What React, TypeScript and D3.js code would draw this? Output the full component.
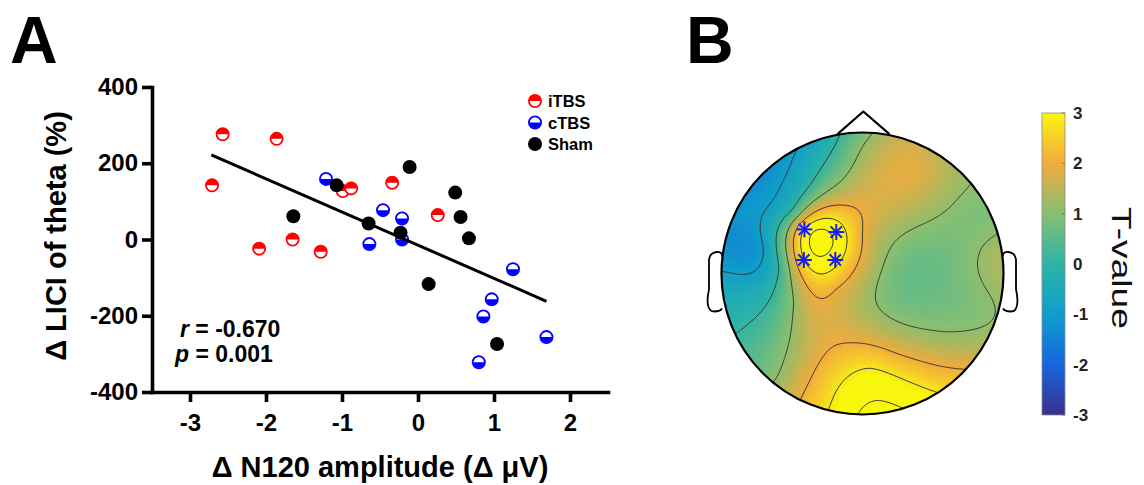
import React, { useEffect, useRef } from "react";
import * as d3 from "d3";

// ---------- panel A data ----------
const xTicks = [-3, -2, -1, 0, 1, 2];
const yTicks = [-400, -200, 0, 200, 400];
const groups = ["iTBS", "cTBS", "Sham"];
const groupColors = ["#ff0000", "#0000ff", "#000000"];

const itbsX = [-2.71, -2.57, -1.86, -2.09, -1.65, -1.28, -0.99, -0.88, -0.34, 0.26];
const itbsY = [142, 276, 264, -24, 0, -32, 127, 134, 149, 64];
const ctbsX = [-1.21, -0.46, -0.64, -0.21, -0.21, 1.25, 0.97, 0.86, 1.69, 0.8];
const ctbsY = [159, 77, -12, 55, 0, -78, -157, -202, -256, -322];
const shamX = [-1.07, -1.64, -0.65, -0.23, -0.11, 0.49, 0.56, 0.67, 0.14, 1.04];
const shamY = [142, 61, 42, 18, 190, 123, 59, 3, -117, -274];

const fitX = [-2.72, 1.69];
const fitY = [222, -162];

// ---------- panel B data ----------
// sample points in head coords (x to the right, y toward the nose), T values
const sensX = [-0.72, -0.86, -0.62, -0.42, -0.22, -0.97, -0.85, -0.62, -0.58, -0.5, -0.4, -0.48, -0.55,
  -0.31, -0.41, -0.19, -0.41, -0.19, -0.3,
  -0.05, 0.05, 0.26, 0.38, 0.1, 0.03, -0.12,
  0.62, 0.72, 0.93, 0.95, 0.9, 0.6, 0.3, 0.27, 0.5, 0.15,
  -0.18, -0.37, -0.1, 0.27, 0.6, 0.12, -0.1, 0.4, 0.72, -0.38, 0.05, -0.2];
const sensY = [0.17, 0.42, 0.62, 0.82, 0.95, -0.1, -0.45, -0.72, 0.05, 0.45, 0.62, -0.2, -0.4,
  0.27, 0.31, 0.29, 0.1, 0.1, -0.08,
  0.92, 0.72, 0.9, 0.69, 0.48, 0.28, 0.55,
  0.8, 0.5, 0.35, 0.08, -0.3, 0.2, 0.1, -0.08, -0.19, -0.2,
  -0.12, -0.28, -0.45, -0.5, -0.52, -0.85, -0.93, -0.82, -0.65, -0.82, -0.68, -0.97];
const sensT = [-1.2, -1.05, -0.95, -0.6, -0.2, -0.45, 0.2, 1.0, 0.0, -0.3, -0.1, 1.1, 0.9,
  4.0, 3.3, 3.3, 3.1, 3.0, 2.5,
  0.9, 1.6, 1.7, 1.9, 1.8, 1.7, 1.6,
  1.4, 1.0, 0.95, 1.45, 1.0, 0.8, 0.75, 0.7, 0.75, 0.95,
  1.8, 1.8, 1.85, 1.6, 1.4, 3.4, 3.3, 2.9, 1.9, 2.1, 2.9, 2.9];

// significant electrodes (asterisks)
const sigX = [-0.412, -0.186, -0.416, -0.193];
const sigY = [0.313, 0.294, 0.096, 0.096];

const contourLevels = [-0.9, 0.1, 1.1, 2.0, 2.8, 3.5];
const cbTicks = [3, 2, 1, 0, -1, -2, -3];
const parulaStops = ["#3b2f8c", "#1666de", "#0f9ecb", "#2db4a8", "#86bf72", "#f2ac3c", "#f6d02a", "#f9f70f"];
const parulaPos = [0, 0.167, 0.333, 0.5, 0.667, 0.833, 0.92, 1];

const font = "'Liberation Sans', Arial, Helvetica, sans-serif";

// thin plate spline fit, returns evaluator
function tps(px: number[], py: number[], v: number[], lambda: number) {
  const n = px.length;
  const m = n + 3;
  const phi = (r: number) => (r > 0 ? r * r * Math.log(r) : 0);
  const A = Array.from({ length: m }, () => new Array(m + 1).fill(0));
  for (let i = 0; i < n; i++) {
    for (let j = 0; j < n; j++) {
      A[i][j] = phi(Math.hypot(px[i] - px[j], py[i] - py[j]));
    }
    A[i][i] += lambda;
    A[i][n] = 1; A[i][n + 1] = px[i]; A[i][n + 2] = py[i];
    A[n][i] = 1; A[n + 1][i] = px[i]; A[n + 2][i] = py[i];
    A[i][m] = v[i];
  }
  for (let c = 0; c < m; c++) {
    let p = c;
    for (let r = c + 1; r < m; r++) if (Math.abs(A[r][c]) > Math.abs(A[p][c])) p = r;
    [A[c], A[p]] = [A[p], A[c]];
    for (let r = 0; r < m; r++) {
      if (r === c) continue;
      const f = A[r][c] / A[c][c];
      if (f === 0) continue;
      for (let k = c; k <= m; k++) A[r][k] -= f * A[c][k];
    }
  }
  const w = A.map((row, i) => row[m] / row[i]);
  return (x: number, y: number) => {
    let s = w[n] + w[n + 1] * x + w[n + 2] * y;
    for (let i = 0; i < n; i++) s += w[i] * phi(Math.hypot(x - px[i], y - py[i]));
    return s;
  };
}

export default function App() {
  const ref = useRef<SVGSVGElement>(null);

  useEffect(() => {
    const svg = d3.select(ref.current);
    svg.selectAll("*").remove();

    // ================= panel A =================
    const x = d3.scaleLinear().domain([-3.5, 2.5]).range([152, 608]);
    const y = d3.scaleLinear().domain([-400, 400]).range([392, 87]);

    const yAxis = svg.append("g").attr("transform", "translate(152,0)")
      .call(d3.axisLeft(y).tickValues(yTicks).tickSize(10).tickSizeOuter(0).tickPadding(4).tickFormat((d) => String(d)));
    const xAxis = svg.append("g").attr("transform", "translate(0,392)")
      .call(d3.axisBottom(x).tickValues(xTicks).tickSize(10).tickSizeOuter(0).tickPadding(12).tickFormat((d) => String(d)));
    [yAxis, xAxis].forEach((a) => {
      a.select(".domain").attr("stroke", "#000").attr("stroke-width", 3.6).attr("stroke-linecap", "square");
      a.selectAll(".tick line").attr("stroke", "#000").attr("stroke-width", 3.6);
      a.selectAll(".tick text").attr("fill", "#000").attr("font-family", font)
        .attr("font-weight", "bold").attr("font-size", 24);
    });

    svg.append("text").attr("x", 380).attr("y", 477).attr("text-anchor", "middle")
      .attr("font-family", font).attr("font-weight", "bold").attr("font-size", 29)
      .text("Δ N120 amplitude (Δ μV)");
    svg.append("text").attr("transform", "translate(66,236) rotate(-90)").attr("text-anchor", "middle")
      .attr("font-family", font).attr("font-weight", "bold").attr("font-size", 29)
      .text("Δ LICI of theta (%)");

    svg.append("text").attr("x", 10).attr("y", 63).attr("font-family", font)
      .attr("font-weight", "bold").attr("font-size", 66).text("A");
    svg.append("text").attr("x", 686).attr("y", 63).attr("font-family", font)
      .attr("font-weight", "bold").attr("font-size", 66).text("B");

    const r = 6.5;
    const halfTop = `M${-r + 0.8},0A${r - 0.8},${r - 0.8} 0 0 1 ${r - 0.8},0Z`;
    const halfBot = `M${-r + 0.8},0A${r - 0.8},${r - 0.8} 0 0 0 ${r - 0.8},0Z`;
    const drawMarker = (g: d3.Selection<SVGGElement, unknown, null, undefined>, k: number) => {
      const c = groupColors[k];
      if (k === 2) {
        g.append("circle").attr("r", r + 0.5).attr("fill", c);
        return;
      }
      g.append("circle").attr("r", r - 0.4).attr("fill", "#fff").attr("stroke", c).attr("stroke-width", 1.8);
      g.append("path").attr("d", k === 0 ? halfTop : halfBot).attr("fill", c);
    };

    const series = [
      [itbsX, itbsY],
      [ctbsX, ctbsY],
      [shamX, shamY],
    ];
    series.forEach(([xs, ys], k) => {
      xs.forEach((xv, i) => {
        const g = svg.append("g").attr("transform", `translate(${x(xv)},${y(ys[i])})`);
        drawMarker(g, k);
      });
    });

    svg.append("path")
      .attr("d", d3.line<number>().x((d) => x(d)).y((_, i) => y(fitY[i]))(fitX))
      .attr("stroke", "#000").attr("stroke-width", 3).attr("fill", "none");

    groups.forEach((name, k) => {
      const ly = 101 + k * 21.5;
      const g = svg.append("g").attr("transform", `translate(535,${ly})`);
      drawMarker(g, k);
      svg.append("text").attr("x", 548).attr("y", ly + 6).attr("font-family", font)
        .attr("font-weight", "bold").attr("font-size", 16.5).text(name);
    });

    const st1 = svg.append("text").attr("x", 180).attr("y", 337).attr("font-family", font)
      .attr("font-weight", "bold").attr("font-size", 23);
    st1.append("tspan").attr("font-style", "italic").text("r");
    st1.append("tspan").text(" = -0.670");
    const st2 = svg.append("text").attr("x", 175).attr("y", 362).attr("font-family", font)
      .attr("font-weight", "bold").attr("font-size", 23);
    st2.append("tspan").attr("font-style", "italic").text("p");
    st2.append("tspan").text(" = 0.001");

    // ================= panel B =================
    const cx = 862.5, cy = 273.5, R = 141;
    const color = d3.scaleLinear<string>().domain(parulaPos.map((p) => -3 + 6 * p)).range(parulaStops).clamp(true);

    const n = 150;
    const ext = 1.05;
    const f = tps(sensX, sensY, sensT, 0.02);
    const vals = new Array(n * n);
    for (let j = 0; j < n; j++) {
      for (let i = 0; i < n; i++) {
        const hx = -ext + ((i + 0.5) * 2 * ext) / n;
        const hy = ext - ((j + 0.5) * 2 * ext) / n;
        vals[i + j * n] = f(hx, hy);
      }
    }
    const proj = d3.geoIdentity().scale((2 * ext * R) / n).translate([cx - ext * R, cy - ext * R]);
    const gpath = d3.geoPath(proj as any);

    const defs = svg.append("defs");
    defs.append("clipPath").attr("id", "head").append("circle").attr("cx", cx).attr("cy", cy).attr("r", R);
    const grad = defs.append("linearGradient").attr("id", "cb").attr("x1", 0).attr("x2", 0).attr("y1", 1).attr("y2", 0);
    parulaPos.forEach((p, i) => grad.append("stop").attr("offset", p).attr("stop-color", parulaStops[i]));

    const topo = svg.append("g").attr("clip-path", "url(#head)");
    const step = 0.05;
    const fillLevels = d3.range(-4, 5, step);
    const fills = d3.contours().size([n, n]).thresholds(fillLevels)(vals);
    topo.selectAll("path.fill").data(fills).join("path").attr("class", "fill")
      .attr("d", (d) => gpath(d as any))
      .attr("fill", (d) => color(d.value + step / 2))
      .attr("stroke", (d) => color(d.value + step / 2)).attr("stroke-width", 0.4);
    const lines = d3.contours().size([n, n]).thresholds(contourLevels)(vals);
    topo.selectAll("path.iso").data(lines).join("path").attr("class", "iso")
      .attr("d", (d) => gpath(d as any))
      .attr("fill", "none").attr("stroke", "#3a3a3a").attr("stroke-width", 1);

    // head outline, nose, ears
    svg.append("circle").attr("cx", cx).attr("cy", cy).attr("r", R)
      .attr("fill", "none").attr("stroke", "#000").attr("stroke-width", 2.2);
    svg.append("path").attr("d", `M${cx - 25},${cy - R + 1.6}L${cx + 0.8},${cy - R - 21}L${cx + 27},${cy - R + 1.6}`)
      .attr("fill", "none").attr("stroke", "#000").attr("stroke-width", 2.2).attr("stroke-linejoin", "round");
    [-1, 1].forEach((s) => {
      const ex = cx + s * (R - 0.5);
      const d = `M${ex},${cy - 17} C${ex + s * -2},${cy - 23} ${ex + s * 12},${cy - 24} ${ex + s * 13},${cy - 14}`
        + ` L${ex + s * 13},${cy + 16} C${ex + s * 15},${cy + 24} ${ex + s * 16},${cy + 38} ${ex + s * 8},${cy + 38}`
        + ` C${ex + s * 3},${cy + 38} ${ex + s * 1},${cy + 37} ${ex},${cy + 35}`;
      svg.append("path").attr("d", d).attr("fill", "none").attr("stroke", "#000").attr("stroke-width", 1.8);
    });

    sigX.forEach((sx, i) => {
      const px = cx + sx * R, py = cy - sigY[i] * R;
      const g = svg.append("g").attr("transform", `translate(${px},${py})`);
      [0, 45, 90, 135].forEach((a) => {
        g.append("line").attr("x1", -8).attr("x2", 8).attr("transform", `rotate(${a})`)
          .attr("stroke", "#1a1aff").attr("stroke-width", 2);
      });
    });

    // colorbar
    const cb = d3.scaleLinear().domain([-3, 3]).range([415, 113]);
    svg.append("rect").attr("x", 1042).attr("y", cb(3)).attr("width", 23).attr("height", cb(-3) - cb(3))
      .attr("fill", "url(#cb)").attr("stroke", "#8a8a8a").attr("stroke-width", 0.8);
    cbTicks.forEach((t) => {
      svg.append("line").attr("x1", 1062).attr("x2", 1065).attr("y1", cb(t)).attr("y2", cb(t))
        .attr("stroke", "#666").attr("stroke-width", 0.8);
      svg.append("text").attr("x", 1073).attr("y", cb(t) + 6).attr("font-family", font)
        .attr("font-weight", "bold").attr("font-size", 17).attr("fill", "#222").text(t);
    });
    svg.append("text").attr("transform", "translate(1112,268) rotate(90)").attr("text-anchor", "middle")
      .attr("font-family", font).attr("font-size", 28).attr("fill", "#111")
      .attr("textLength", 122).attr("lengthAdjust", "spacingAndGlyphs").text("T-value");
  }, []);

  return (
    <svg ref={ref} width={1144} height={485} viewBox="0 0 1144 485"
      style={{ position: "absolute", left: 0, top: 0, background: "#fff" }} />
  );
}
